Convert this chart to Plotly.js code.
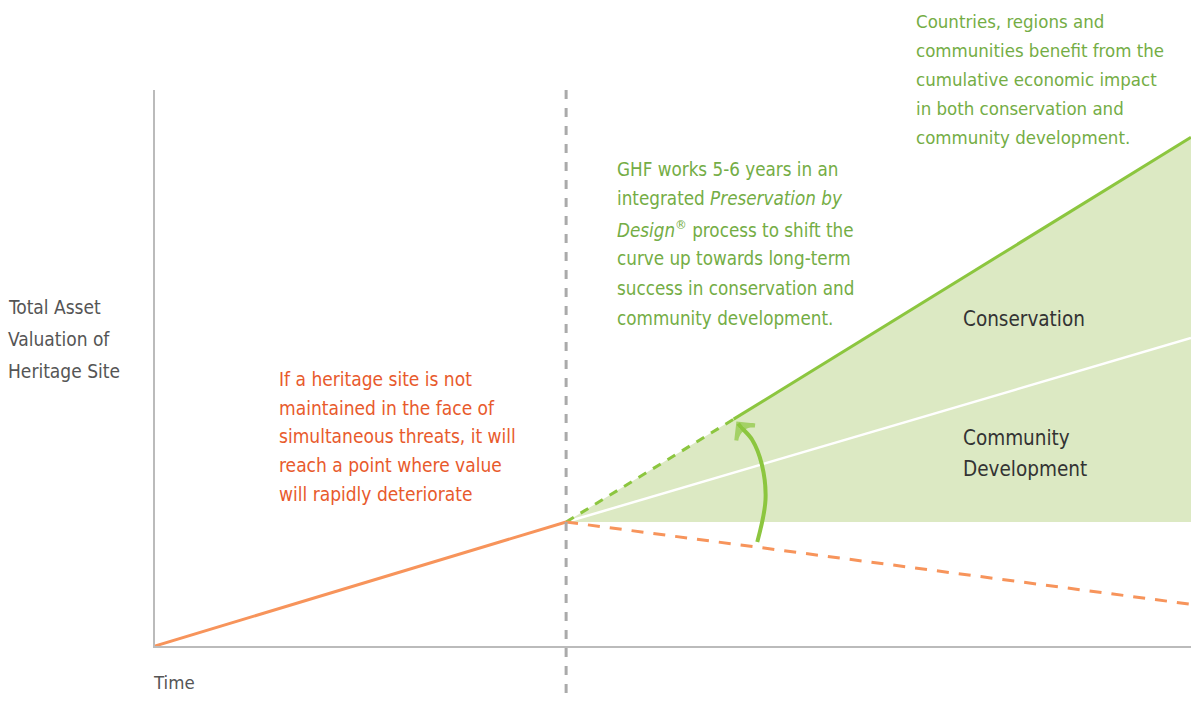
<!DOCTYPE html>
<html>
<head>
<meta charset="utf-8">
<script src="https://cdn.plot.ly/plotly-3.0.1.min.js"></script>
<style>html,body{margin:0;padding:0;background:#fff;}#chart{width:1191px;height:702px;}</style>
</head>
<body>
<div id="chart"></div>
<script>
// ---- data (time units, value units) ----
const pivotTime = 4.0;
const endTime = 10.08;
const pivotValue = 22.3;
const declineTime = [0, pivotTime];
const declineValue = [0, pivotValue];
const neglectTime = [pivotTime, endTime];
const neglectValue = [pivotValue, 7.5];
const baseTime = [pivotTime, endTime];
const baseValue = [pivotValue, pivotValue];
const upliftDashTime = [pivotTime, 5.63];
const upliftDashValue = [pivotValue, 40.8];
const upliftSolidTime = [5.63, endTime];
const upliftSolidValue = [40.8, 91.5];
const upliftFullTime = [pivotTime, endTime];
const upliftFullValue = [pivotValue, 91.5];
const communityTime = [pivotTime, endTime];
const communityValue = [pivotValue, 55.4];
const arrowTime = [5.86, 5.94, 5.905, 5.81, 5.70, 5.674];
const arrowValue = [18.7, 26.3, 32.6, 37.1, 39.4, 40.0];

const yLabelLines = ["Total Asset", "Valuation of", "Heritage Site"];
const orangeLines = ["If a heritage site is not", "maintained in the face of", "simultaneous threats, it will", "reach a point where value", "will rapidly deteriorate"];
const ghfLines = ["GHF works 5-6 years in an", "integrated <i>Preservation by</i>", "<i>Design</i><sup>®</sup> process to shift the", "curve up towards long-term", "success in conservation and", "community development."];
const topLines = ["Countries, regions and", "communities benefit from the", "cumulative economic impact", "in both conservation and", "community development."];
const communityLines = ["Community", "Development"];

const FONT = '"Liberation Sans Narrow", "DejaVu Sans Condensed", "Roboto", sans-serif';
const GREEN = '#8cc63f', ORANGE = '#f7945b', FILL = '#dce9c3';
const TXT_GREEN = '#74ad45', TXT_ORANGE = '#e85a2c', TXT_DARK = '#333333', TXT_GRAY = '#555555';

const traces = [
  {x: baseTime, y: baseValue, mode: 'lines', line: {width: 0, color: FILL}, hoverinfo: 'skip', showlegend: false},
  {x: upliftFullTime, y: upliftFullValue, mode: 'lines', fill: 'tonexty', fillcolor: FILL, line: {width: 0, color: FILL}, hoverinfo: 'skip', showlegend: false},
  {x: communityTime, y: communityValue, mode: 'lines', line: {color: '#ffffff', width: 2.5}, showlegend: false},
  {x: upliftDashTime, y: upliftDashValue, mode: 'lines', line: {color: GREEN, width: 3, dash: '9px,8px'}, showlegend: false},
  {x: upliftSolidTime, y: upliftSolidValue, mode: 'lines', line: {color: GREEN, width: 3}, showlegend: false},
  {x: declineTime, y: declineValue, mode: 'lines', line: {color: ORANGE, width: 3}, showlegend: false},
  {x: neglectTime, y: neglectValue, mode: 'lines', line: {color: ORANGE, width: 3, dash: '12px,10px'}, showlegend: false},
  {x: arrowTime, y: arrowValue, mode: 'lines+markers', line: {color: GREEN, width: 4, shape: 'spline'},
   marker: {symbol: arrowTime.map((_, i) => i === arrowTime.length - 1 ? 'arrow-wide-open' : 'circle'),
            size: arrowTime.map((_, i) => i === arrowTime.length - 1 ? 17 : 0),
            angleref: 'previous', color: GREEN, line: {color: GREEN, width: 4}}, showlegend: false}
];

const annotations = [];
// positions in pixel space converted to paper coords
const L = 155, R = 0, T = 90, B = 56, W = 1191, H = 702;
const pw = W - L - R, ph = H - T - B;
const px = v => (v - L) / pw;
const py = v => (H - B - v) / ph;

function addPx(lines, xp, yp, dyp, color, size) {
  lines.forEach((t, i) => {
    annotations.push({xref: 'paper', yref: 'paper', x: px(xp), y: py(yp + i * dyp), xanchor: 'left', yanchor: 'middle',
      text: t, showarrow: false, font: {family: FONT, size: size, color: color}});
  });
}
addPx(yLabelLines, 6, 307, 32, TXT_GRAY, 19);
addPx(["Time"], 151, 682, 0, TXT_GRAY, 18.5);
addPx(orangeLines, 277, 379, 28.7, TXT_ORANGE, 19);
addPx(ghfLines, 615, 169, 29.8, TXT_GREEN, 18.7);
addPx(topLines, 914, 21, 29.2, TXT_GREEN, 18.5);
addPx(["Conservation"], 961, 319, 0, TXT_DARK, 20.5);
addPx(communityLines, 961, 438, 31, TXT_DARK, 20.5);

const layout = {
  width: W, height: H,
  margin: {l: L, r: R, t: T, b: B},
  paper_bgcolor: '#ffffff', plot_bgcolor: '#ffffff',
  xaxis: {range: [0, endTime], showgrid: false, zeroline: false, showticklabels: false, ticks: '', fixedrange: true,
          showline: true, linecolor: '#bbbbbb', linewidth: 2},
  yaxis: {range: [0, 100], showgrid: false, zeroline: false, showticklabels: false, ticks: '', fixedrange: true,
          showline: true, linecolor: '#bbbbbb', linewidth: 2},
  shapes: [{type: 'line', xref: 'x', yref: 'paper', x0: pivotTime, x1: pivotTime, y0: 1, y1: -0.12,
            line: {color: '#aaaaaa', width: 3, dash: '9px,9px'}, layer: 'above'}],
  annotations: annotations,
  showlegend: false
};
Plotly.newPlot('chart', traces, layout, {displayModeBar: false, staticPlot: true});
</script>
</body>
</html>
